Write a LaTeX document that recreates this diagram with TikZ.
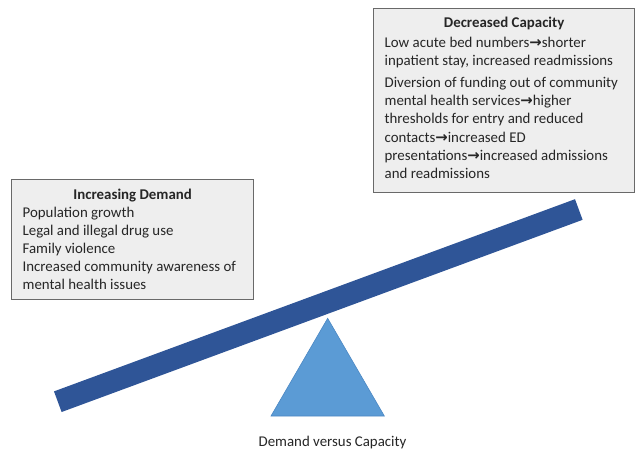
\documentclass[tikz,border=0pt]{standalone}
\usepackage{fontspec}
\setmainfont{Carlito}
\newfontfamily\arrowfont{DejaVu Sans}
\usepackage{xcolor}
\definecolor{beamblue}{RGB}{47,85,151}
\definecolor{pivotblue}{RGB}{91,155,213}
\definecolor{pivotedge}{RGB}{75,135,195}
\definecolor{boxgray}{RGB}{238,238,238}
\definecolor{edgegray}{RGB}{105,105,105}
\definecolor{textgray}{RGB}{38,38,38}
\newcommand{\rarr}{{\arrowfont\bfseries →}}

\tikzset{
  infobox/.style={draw=edgegray, line width=1.1pt, fill=boxgray, inner xsep=0.33cm, inner ysep=0.28cm,
    anchor=north west, text=textgray, font=\fontsize{12.7}{15.4}\selectfont},
  beam/.style={draw=beamblue, line width=0.66cm},
}

\begin{document}
\begin{tikzpicture}
    \useasboundingbox (0,0) rectangle (19.08,13.5);

    % seesaw
    \coordinate (lowend) at (1.734,1.449);
    \coordinate (highend) at (17.364,7.215);
    \coordinate (apex) at (9.83,3.951);
    \coordinate (baseleft) at (8.13,1.02);
    \coordinate (baseright) at (11.53,1.02);
    \fill[pivotblue, draw=pivotedge, line width=0.5pt] (apex) -- (baseleft) -- (baseright) -- cycle;
    \draw[beam] (lowend) -- (highend);

    \node[infobox] (capacity) at (11.19,13.26) {
      \begin{minipage}[c][4.96cm][t]{7.17cm}
        \vspace*{-0.02cm}
        \centering
        \textbf{Decreased Capacity}\par
        \vspace{0.04cm}
        \raggedright
        Low acute bed numbers\rarr shorter\\
        inpatient stay, increased readmissions\par
        \vspace{0.14cm}
        Diversion of funding out of community\\
        mental health services\rarr higher\\
        thresholds for entry and reduced\\
        contacts\rarr increased ED\\
        presentations\rarr increased admissions\\
        and readmissions
      \end{minipage}
    };

    \node[infobox] (demand) at (0.33,8.13) {
      \begin{minipage}[c][3.03cm][t]{6.6cm}
        \centering
        \textbf{Increasing Demand}\par
        \raggedright
        Population growth\\
        Legal and illegal drug use\\
        Family violence\\
        Increased community awareness of\\
        mental health issues
      \end{minipage}
    };

    \node[text=textgray, font=\fontsize{12.7}{15.4}\selectfont] (caption) at (9.975,0.22) {Demand versus Capacity};
\end{tikzpicture}
\end{document}
